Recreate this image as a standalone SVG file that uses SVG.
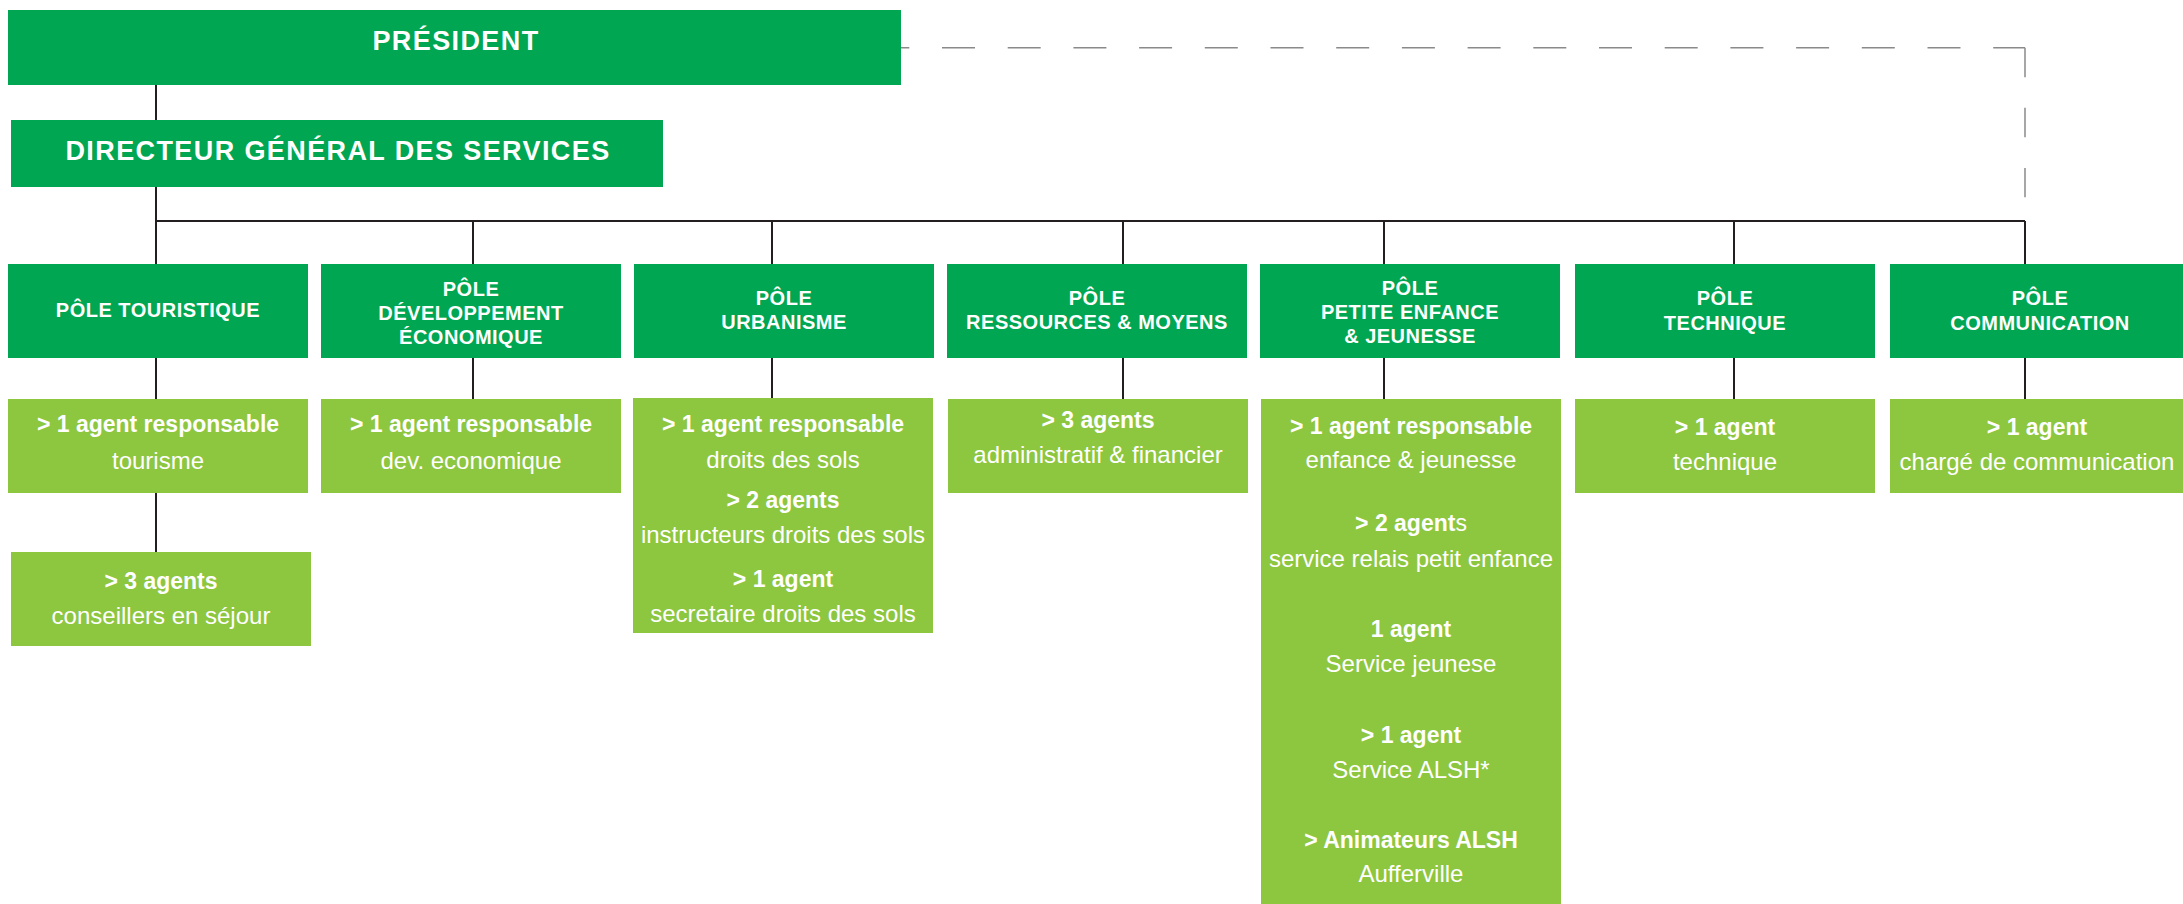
<svg xmlns="http://www.w3.org/2000/svg" width="2183" height="904" viewBox="0 0 2183 904">
<style>
.dk{fill:#00a651}
.lt{fill:#8dc63f}
text{font-family:"Liberation Sans",Arial,sans-serif;fill:#fff;text-anchor:middle}
.top{font-size:27px;font-weight:bold;letter-spacing:1.4px}
.pole{font-size:20px;font-weight:bold;letter-spacing:0.5px}
.b{font-size:23px;font-weight:bold}
.r{font-size:24px;font-weight:normal}
.ln{stroke:#231f20;stroke-width:2;fill:none}
.dash{stroke:#8a8a8a;stroke-width:1.5;fill:none}
</style>
<g id="connectors">
<path class="dash" d="M876.3,47.7 H2025" stroke-dasharray="33 32.7"/>
<path class="dash" d="M2025,47.7 V197.3" stroke-dasharray="29.5 30.6"/>
<path class="ln" d="M156,85 V121 M156,187 V264 M156,221 H2025 M473,221 V264 M772,221 V264 M1123,221 V264 M1384,221 V264 M1734,221 V264 M2025,221 V264"/>
<path class="ln" d="M156,358 V399 M473,358 V399 M772,358 V398 M1123,358 V399 M1384,358 V399 M1734,358 V399 M2025,358 V399 M156,493 V552"/>
</g>
<g id="president">
<rect class="dk" x="8" y="10" width="893" height="75"/>
<text class="top" x="456" y="49.5">PRÉSIDENT</text>
</g>
<g id="dgs">
<rect class="dk" x="11" y="120" width="652" height="67"/>
<text class="top" x="338" y="160">DIRECTEUR GÉNÉRAL DES SERVICES</text>
</g>
<g id="pole-touristique">
<rect class="dk" x="8" y="264" width="300" height="94"/>
<text class="pole" x="158" y="317">PÔLE TOURISTIQUE</text>
</g>
<g id="pole-developpement">
<rect class="dk" x="321" y="264" width="300" height="94"/>
<text class="pole" x="471" y="296">PÔLE</text>
<text class="pole" x="471" y="320">DÉVELOPPEMENT</text>
<text class="pole" x="471" y="343.5">ÉCONOMIQUE</text>
</g>
<g id="pole-urbanisme">
<rect class="dk" x="634" y="264" width="300" height="94"/>
<text class="pole" x="784" y="305">PÔLE</text>
<text class="pole" x="784" y="329">URBANISME</text>
</g>
<g id="pole-ressources">
<rect class="dk" x="947" y="264" width="300" height="94"/>
<text class="pole" x="1097" y="305">PÔLE</text>
<text class="pole" x="1097" y="329">RESSOURCES &amp; MOYENS</text>
</g>
<g id="pole-enfance">
<rect class="dk" x="1260" y="264" width="300" height="94"/>
<text class="pole" x="1410" y="295">PÔLE</text>
<text class="pole" x="1410" y="319">PETITE ENFANCE</text>
<text class="pole" x="1410" y="343">&amp; JEUNESSE</text>
</g>
<g id="pole-technique">
<rect class="dk" x="1575" y="264" width="300" height="94"/>
<text class="pole" x="1725" y="305">PÔLE</text>
<text class="pole" x="1725" y="330">TECHNIQUE</text>
</g>
<g id="pole-communication">
<rect class="dk" x="1890" y="264" width="300" height="94"/>
<text class="pole" x="2040" y="305">PÔLE</text>
<text class="pole" x="2040" y="330">COMMUNICATION</text>
</g>
<g id="agent-tourisme">
<rect class="lt" x="8" y="399" width="300" height="94"/>
<text class="b" x="158" y="432">&gt; 1 agent responsable</text>
<text class="r" x="158" y="469">tourisme</text>
</g>
<g id="agent-conseillers">
<rect class="lt" x="11" y="552" width="300" height="94"/>
<text class="b" x="161" y="589">&gt; 3 agents</text>
<text class="r" x="161" y="624">conseillers en séjour</text>
</g>
<g id="agent-dev">
<rect class="lt" x="321" y="399" width="300" height="94"/>
<text class="b" x="471" y="432">&gt; 1 agent responsable</text>
<text class="r" x="471" y="469">dev. economique</text>
</g>
<g id="agent-urbanisme">
<rect class="lt" x="633" y="398" width="300" height="235"/>
<text class="b" x="783" y="432">&gt; 1 agent responsable</text>
<text class="r" x="783" y="468">droits des sols</text>
<text class="b" x="783" y="508">&gt; 2 agents</text>
<text class="r" x="783" y="543">instructeurs droits des sols</text>
<text class="b" x="783" y="587">&gt; 1 agent</text>
<text class="r" x="783" y="621.5">secretaire droits des sols</text>
</g>
<g id="agent-ressources">
<rect class="lt" x="948" y="399" width="300" height="94"/>
<text class="b" x="1098" y="428">&gt; 3 agents</text>
<text class="r" x="1098" y="462.5">administratif &amp; financier</text>
</g>
<g id="agent-enfance">
<rect class="lt" x="1261" y="399" width="300" height="505"/>
<text class="b" x="1411" y="434">&gt; 1 agent responsable</text>
<text class="r" x="1411" y="468">enfance &amp; jeunesse</text>
<text class="b" x="1411" y="531">&gt; 2 agent<tspan font-weight="normal">s</tspan></text>
<text class="r" x="1411" y="566.5">service relais petit enfance</text>
<text class="b" x="1411" y="637">1 agent</text>
<text class="r" x="1411" y="672">Service jeunese</text>
<text class="b" x="1411" y="743">&gt; 1 agent</text>
<text class="r" x="1411" y="778">Service ALSH*</text>
<text class="b" x="1411" y="847.5">&gt; Animateurs ALSH</text>
<text class="r" x="1411" y="882">Aufferville</text>
</g>
<g id="agent-technique">
<rect class="lt" x="1575" y="399" width="300" height="94"/>
<text class="b" x="1725" y="434.5">&gt; 1 agent</text>
<text class="r" x="1725" y="470">technique</text>
</g>
<g id="agent-communication">
<rect class="lt" x="1890" y="399" width="300" height="94"/>
<text class="b" x="2037" y="434.5">&gt; 1 agent</text>
<text class="r" x="2037" y="470">chargé de communication</text>
</g>
</svg>
